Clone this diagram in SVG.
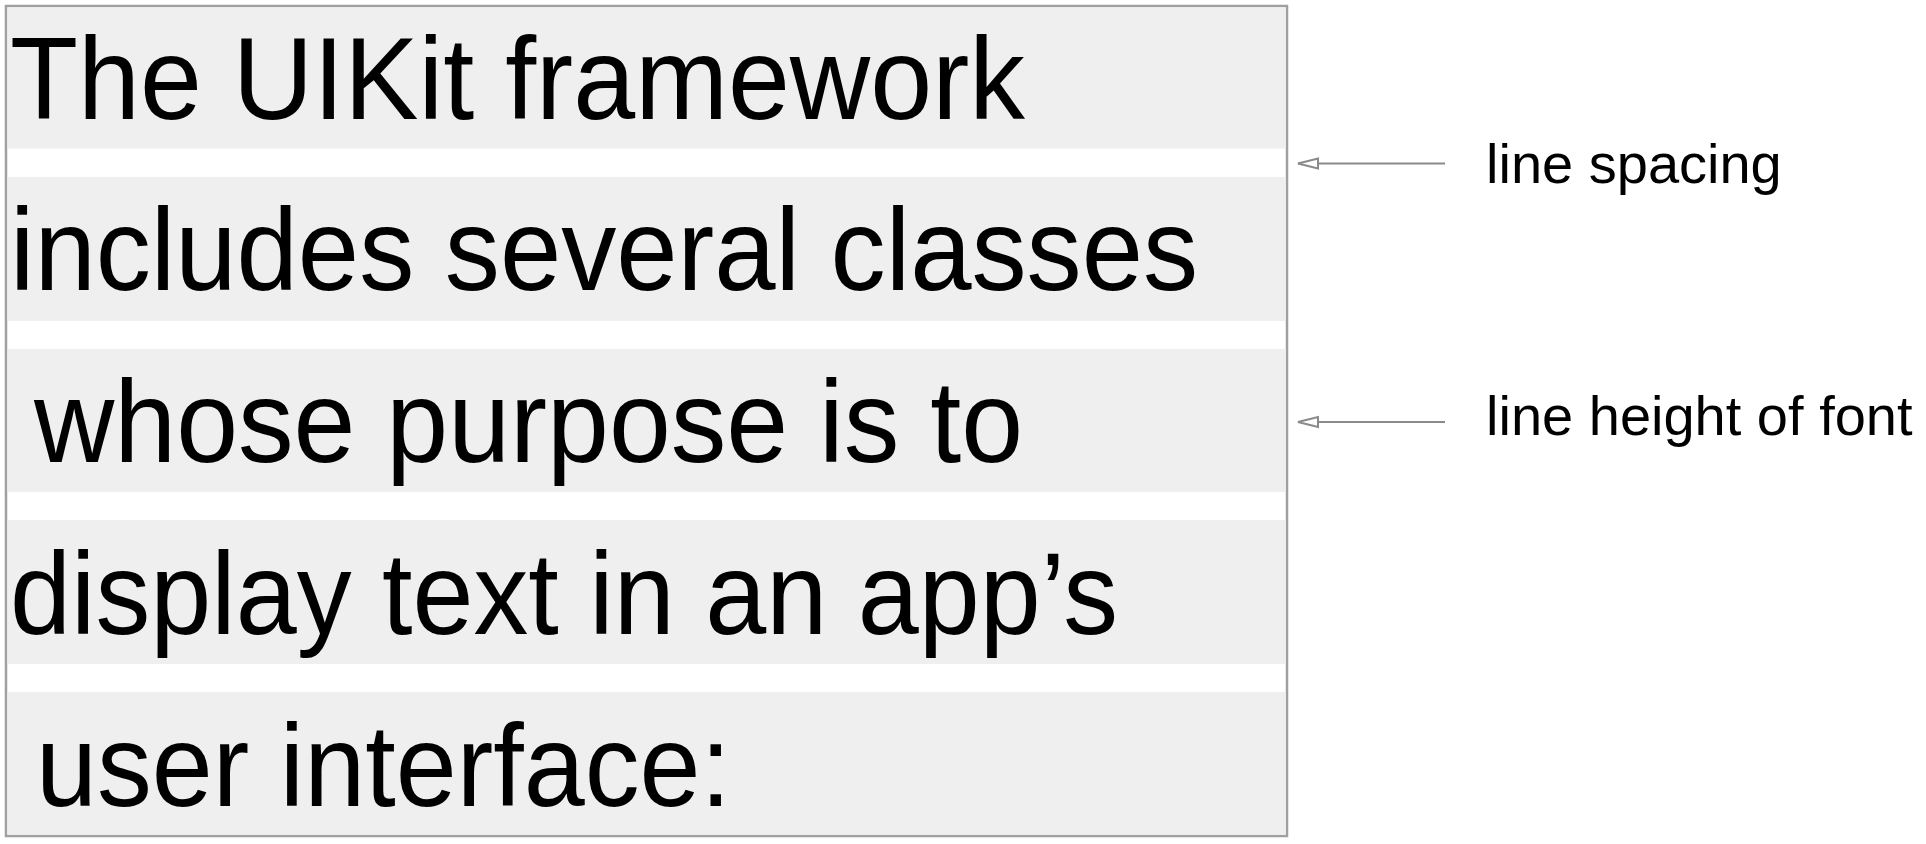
<svg xmlns="http://www.w3.org/2000/svg" width="1926" height="844" viewBox="0 0 1926 844">
<style>
.band{fill:#efefef}
.big{font-family:"Liberation Sans",Arial,sans-serif;font-size:116px;fill:#000}
.lbl{font-family:"Liberation Sans",Arial,sans-serif;font-size:56px;fill:#000}
.conn{stroke:#8a8a8a;stroke-width:2;fill:none}
</style>
<defs>
<marker id="ah" viewBox="0 0 24 14" refX="23" refY="7" markerWidth="24" markerHeight="14" markerUnits="userSpaceOnUse" orient="auto">
<path d="M23,7 L3,2 L3,12 Z" fill="#fff" stroke="#8a8a8a" stroke-width="2"/>
</marker>
</defs>
<rect x="0" y="0" width="1926" height="844" fill="#fff"/>
<g id="textbox">
<rect x="6" y="6" width="1281" height="830" fill="#fff" stroke="#a0a0a0" stroke-width="2.5"/>
<rect class="band" x="7.5" y="7.5" width="1278" height="141"/>
<rect class="band" x="7.5" y="177" width="1278" height="144"/>
<rect class="band" x="7.5" y="349" width="1278" height="143"/>
<rect class="band" x="7.5" y="520" width="1278" height="144"/>
<rect class="band" x="7.5" y="692" width="1278" height="142.5"/>
<text class="big" x="10" y="119" textLength="1015" lengthAdjust="spacingAndGlyphs">The UIKit framework</text>
<text class="big" x="10" y="290" textLength="1188" lengthAdjust="spacingAndGlyphs">includes several classes</text>
<text class="big" x="34" y="462" textLength="989" lengthAdjust="spacingAndGlyphs">whose purpose is to</text>
<text class="big" x="10" y="634" textLength="1108" lengthAdjust="spacingAndGlyphs">display text in an app’s</text>
<text class="big" x="36" y="806" textLength="695" lengthAdjust="spacingAndGlyphs">user interface:</text>
</g>
<g id="connectors">
<line class="conn" x1="1445" y1="163.5" x2="1298" y2="163.5" marker-end="url(#ah)"/>
<line class="conn" x1="1445" y1="422" x2="1298" y2="422" marker-end="url(#ah)"/>
</g>
<g id="label-line-spacing">
<text class="lbl" x="1486" y="183">line spacing</text>
</g>
<g id="label-line-height">
<text class="lbl" x="1486" y="435">line height of font</text>
</g>
</svg>
